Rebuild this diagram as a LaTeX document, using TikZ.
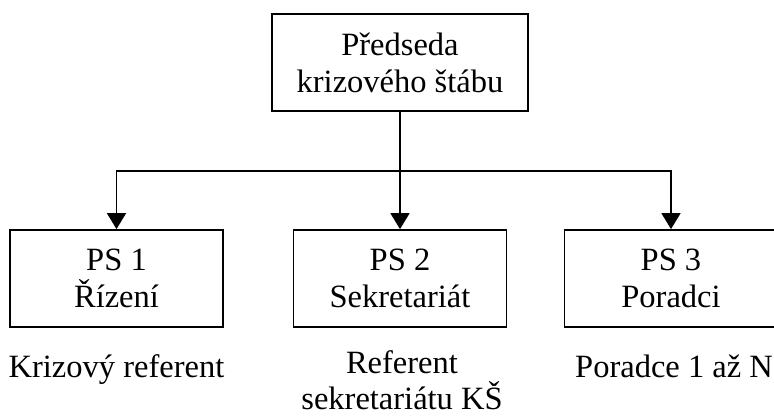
\documentclass[tikz,border=0pt]{standalone}
\usepackage{fontspec}
\setmainfont{Liberation Serif}
\usetikzlibrary{arrows.meta}
\begin{document}
\begin{tikzpicture}[x=1pt,y=-1pt,
  box/.style={draw, line width=1.8pt, minimum width=213pt, minimum height=97pt, inner sep=0pt, align=center, font=\fontsize{32.5}{36.7}\selectfont},
  lbl/.style={anchor=base, align=center, font=\fontsize{32.5}{36.7}\selectfont, inner sep=0pt},
  conn/.style={line width=1.8pt},
  arr/.style={conn, -{Triangle[width=19pt,length=16pt]}}]
\useasboundingbox (0,0) rectangle (774,416);
\clip (0,0) rectangle (774,416);
\node[box, minimum width=256pt] (top) at (400,62.5) {Předseda\\krizového štábu};
\node[box] (ps1) at (116.5,278.5) {PS 1\\Řízení};
\node[box] (ps2) at (400,278.5) {PS 2\\Sekretariát};
\node[box] (ps3) at (671,278.5) {PS 3\\Poradci};
\node[lbl] (l1) at (116.5,377) {Krizový referent};
\node[lbl, anchor=north] (l2) at (402,350) {Referent\\sekretariátu KŠ};
\node[lbl] (l3) at (674,377) {Poradce 1 až N};
\draw[arr] (top.south) -- ++(0,59) -| (ps1.north);
\draw[arr] (top.south) -- ++(0,59) -| (ps3.north);
\draw[arr] (top.south) -- (ps2.north);
\end{tikzpicture}
\end{document}
